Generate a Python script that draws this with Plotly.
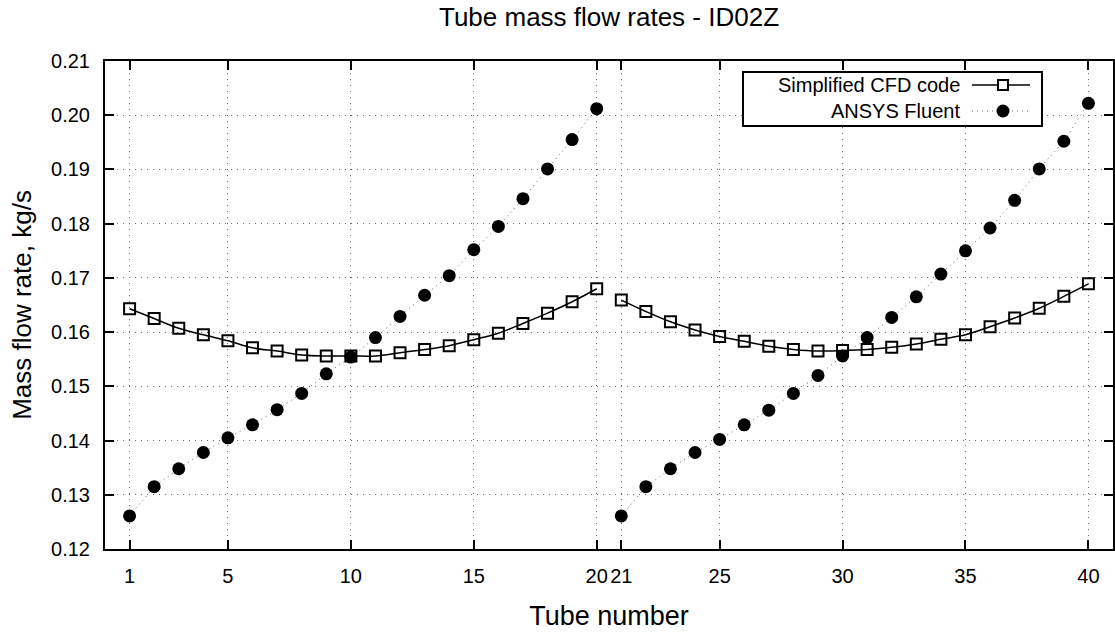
import plotly.graph_objects as go

# ---- data ----
tubes = list(range(1, 41))
x_ticks = [1, 5, 10, 15, 20, 21, 25, 30, 35, 40]
y_ticks = [0.12, 0.13, 0.14, 0.15, 0.16, 0.17, 0.18, 0.19, 0.20, 0.21]
y_tick_labels = ["0.12", "0.13", "0.14", "0.15", "0.16", "0.17", "0.18", "0.19", "0.20", "0.21"]

cfd_code = [0.1643, 0.1625, 0.1607, 0.1595, 0.1584, 0.1571, 0.1565, 0.1558, 0.1556, 0.1556,
            0.1556, 0.1562, 0.1568, 0.1575, 0.1586, 0.1598, 0.1616, 0.1635, 0.1656, 0.1680,
            0.1659, 0.1638, 0.1619, 0.1604, 0.1592, 0.1583, 0.1574, 0.1568, 0.1565, 0.1566,
            0.1568, 0.1572, 0.1578, 0.1587, 0.1595, 0.1610, 0.1626, 0.1644, 0.1666, 0.1689]
ansys_fluent = [0.1261, 0.1315, 0.1348, 0.1378, 0.1405, 0.1429, 0.1457, 0.1487, 0.1523, 0.1554,
                0.1590, 0.1629, 0.1668, 0.1704, 0.1752, 0.1795, 0.1846, 0.1901, 0.1955, 0.2012,
                0.1261, 0.1315, 0.1348, 0.1378, 0.1402, 0.1429, 0.1456, 0.1487, 0.1520, 0.1556,
                0.1590, 0.1627, 0.1665, 0.1707, 0.1750, 0.1792, 0.1843, 0.1901, 0.1952, 0.2022]

series_names = ["Simplified CFD code", "ANSYS Fluent"]
half = 20

FONT = "Liberation Sans"


def with_gap(vals):
    return list(vals[:half]) + [None] + list(vals[half:])


xg = with_gap(tubes)

fig = go.Figure()
fig.add_trace(go.Scatter(
    x=xg, y=with_gap(ansys_fluent), mode="lines+markers", name=series_names[1],
    line=dict(color="#666666", width=1, dash="1px,4px"),
    marker=dict(symbol="circle", size=13, color="black", line=dict(width=0)),
    connectgaps=False, showlegend=False,
))
fig.add_trace(go.Scatter(
    x=xg, y=with_gap(cfd_code), mode="lines+markers", name=series_names[0],
    line=dict(color="black", width=1.5, shape="spline"),
    marker=dict(symbol="square-open", size=11, color="black", line=dict(width=2)),
    connectgaps=False, showlegend=False,
))

axis_common = dict(
    showline=True, linecolor="black", linewidth=2, mirror="ticks",
    ticks="inside", ticklen=9, tickwidth=2, tickcolor="black",
    showgrid=True, gridcolor="#6a6a6a", gridwidth=1, griddash="1px,5px",
    zeroline=False, tickfont=dict(family=FONT, size=20, color="black"),
)

fig.update_xaxes(
    range=[0, 41], tickmode="array", tickvals=x_ticks,
    ticktext=[str(v) for v in x_ticks], ticklabelstandoff=8,
    title=dict(text="Tube number", font=dict(family=FONT, size=27, color="black"), standoff=20),
    **axis_common,
)
fig.update_yaxes(
    range=[0.12, 0.21], tickmode="array", tickvals=y_ticks, ticktext=y_tick_labels,
    ticklabelstandoff=9,
    title=dict(text="Mass flow rate, kg/s", font=dict(family=FONT, size=26, color="black"), standoff=12),
    **axis_common,
)

# ---- custom legend (text left, sample right, as in the reference) ----
L, R, T, B = 105, 1113, 61, 549


def px(xp):
    return (xp - L) / (R - L)


def py(yp):
    return (B - yp) / (B - T)


shapes = [
    dict(type="rect", xref="paper", yref="paper", x0=px(743), x1=px(1042), y0=py(126), y1=py(72),
         line=dict(color="black", width=2), fillcolor="white", layer="above"),
    dict(type="line", xref="paper", yref="paper", x0=px(972), x1=px(1030), y0=py(85), y1=py(85),
         line=dict(color="black", width=1.5), layer="above"),
    dict(type="rect", xref="paper", yref="paper", x0=px(998), x1=px(1008), y0=py(90), y1=py(80),
         line=dict(color="black", width=2), fillcolor="white", layer="above"),
    dict(type="line", xref="paper", yref="paper", x0=px(972), x1=px(1030), y0=py(111), y1=py(111),
         line=dict(color="#666666", width=1, dash="1px,4px"), layer="above"),
    dict(type="circle", xref="paper", yref="paper", x0=px(996.5), x1=px(1009.5), y0=py(117.5), y1=py(104.5),
         line=dict(color="black", width=0), fillcolor="black", layer="above"),
]
annotations = [
    dict(xref="paper", yref="paper", x=px(962), y=py(85), text=series_names[0], showarrow=False,
         xanchor="right", yanchor="middle", font=dict(family=FONT, size=20, color="black")),
    dict(xref="paper", yref="paper", x=px(962), y=py(111), text=series_names[1], showarrow=False,
         xanchor="right", yanchor="middle", font=dict(family=FONT, size=20, color="black")),
]

fig.update_layout(
    width=1115, height=634,
    margin=dict(l=L, r=1115 - R, t=T, b=634 - B, autoexpand=False),
    paper_bgcolor="white", plot_bgcolor="white",
    title=dict(text="Tube mass flow rates - ID02Z", x=0.5, xref="paper", y=1 - 17 / 634,
               yref="container", xanchor="center", yanchor="middle",
               font=dict(family=FONT, size=26, color="black")),
    showlegend=False,
    shapes=shapes, annotations=annotations,
)

fig.write_html("out.html", config={"displayModeBar": False},
               post_script="document.body.style.margin='0';document.body.style.overflow='hidden';")
